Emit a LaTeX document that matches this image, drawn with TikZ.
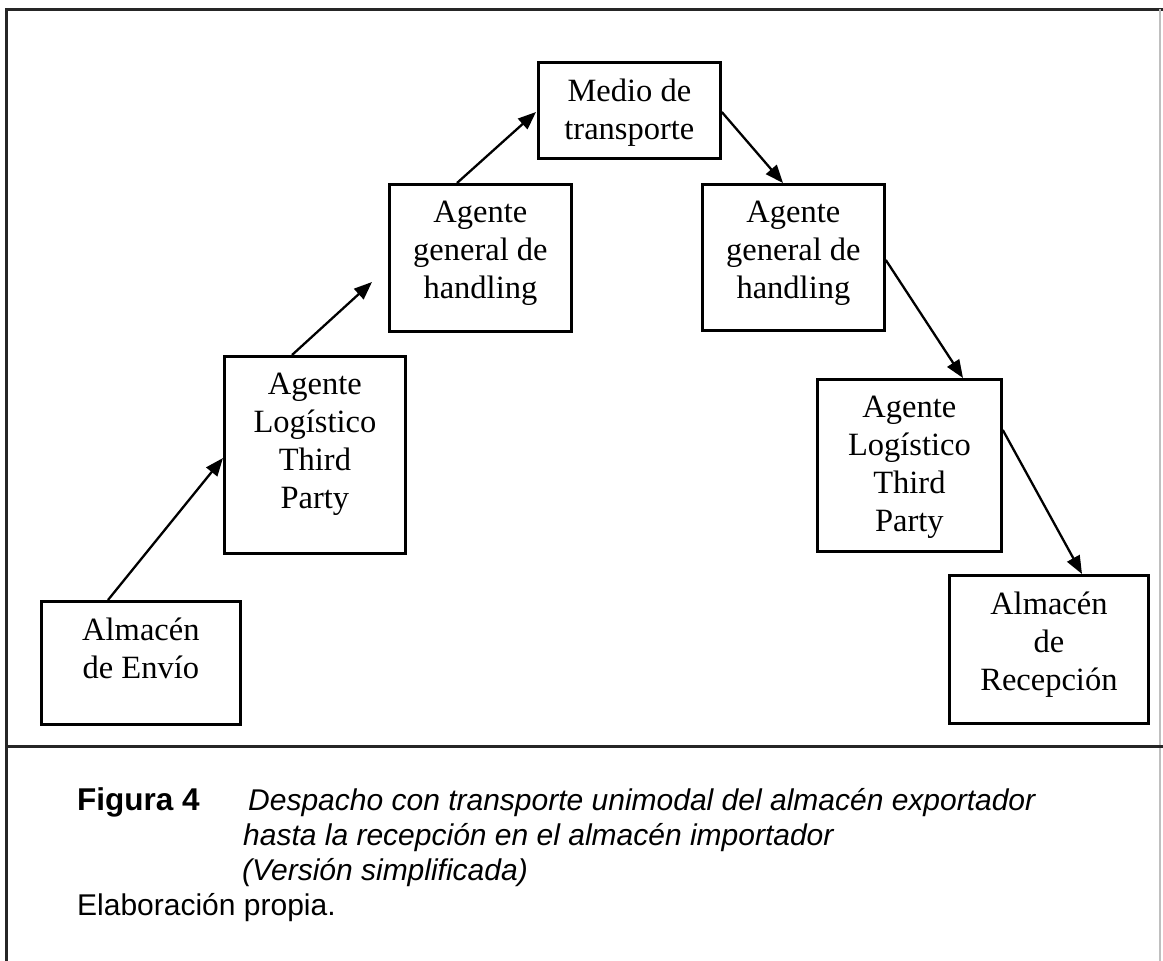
\documentclass[tikz,border=0pt]{standalone}
\usepackage{fontspec}
\setmainfont{Liberation Serif}
\setsansfont{Liberation Sans}
\usetikzlibrary{arrows.meta,calc}

\begin{document}
\begin{tikzpicture}[x=1pt,y=-1pt,
  box/.style={draw, line width=2.8pt, rectangle, inner sep=0pt, anchor=north west},
  lbl/.style={anchor=north, align=center, inner sep=0pt, font=\fontsize{32.5}{38}\selectfont},
  flow/.style={line width=2.3pt, -{Triangle[length=18pt,width=14pt]}},
  captext/.style={anchor=base west, inner sep=0pt},
  capbold/.style={captext, font=\sffamily\bfseries\fontsize{31.5}{35}\selectfont},
  capital/.style={captext, font=\sffamily\itshape\fontsize{30}{35}\selectfont},
  capplain/.style={captext, font=\sffamily\fontsize{30}{35}\selectfont}]

\useasboundingbox (0,0) rectangle (1163,961);

% outer frame and separator of the caption panel
\draw[line width=3pt, black!85] (6,961) -- (6,9) -- (1163,9);
\draw[line width=1.5pt, black!25] (1160,9) -- (1160,961);
\draw[line width=3pt, black!85] (6,746) -- (1163,746);

% boxes
\node[box, minimum width=199pt, minimum height=123pt] (envio) at (40,600) {};
\node[box, minimum width=181pt, minimum height=197pt] (log1) at (223,355) {};
\node[box, minimum width=182pt, minimum height=147pt] (hand1) at (388,183) {};
\node[box, minimum width=182pt, minimum height=96pt] (medio) at (537,61) {};
\node[box, minimum width=182pt, minimum height=146pt] (hand2) at (701,183) {};
\node[box, minimum width=184pt, minimum height=172pt] (log2) at (816,378) {};
\node[box, minimum width=199pt, minimum height=148pt] (recep) at (948,574) {};

% box texts
\node[lbl] (envioT) at ($(envio.north)+(0,18)$) {Almacén\\de Envío};
\node[lbl] (log1T) at ($(log1.north)+(0,18)$) {Agente\\Logístico\\Third\\Party};
\node[lbl] (hand1T) at ($(hand1.north)+(0,18)$) {Agente\\general de\\handling};
\node[lbl] (medioT) at ($(medio.north)+(0,18)$) {Medio de\\transporte};
\node[lbl] (hand2T) at ($(hand2.north)+(0,18)$) {Agente\\general de\\handling};
\node[lbl] (log2T) at ($(log2.north)+(0,18)$) {Agente\\Logístico\\Third\\Party};
\node[lbl] (recepT) at ($(recep.north)+(0,18)$) {Almacén\\de\\Recepción};

% connectors
\draw[flow] ($(envio.north west)+(68,0)$) -- ($(log1.north west)+(0,103)$);
\draw[flow] ($(log1.north west)+(69,0)$) -- ($(hand1.north west)+(-16,99)$);
\draw[flow] ($(hand1.north west)+(69,0)$) -- ($(medio.north west)+(-1,51)$);
\draw[flow] ($(medio.north east)+(0,51)$) -- ($(hand2.north west)+(82,0)$);
\draw[flow] ($(hand2.north east)+(0,77)$) -- ($(log2.north west)+(147,0)$);
\draw[flow] ($(log2.north east)+(0,52)$) -- ($(recep.north west)+(134,0)$);

% caption
\node[capbold] (fig) at (77,810) {Figura 4};
\node[capital] (cap1) at (248,810) {Despacho con transporte unimodal del almacén exportador};
\node[capital] (cap2) at (243,845) {hasta la recepción en el almacén importador};
\node[capital] (cap3) at (242,880) {(Versión simplificada)};
\node[capplain] (elab) at (77,915) {Elaboración propia.};
\end{tikzpicture}
\end{document}
